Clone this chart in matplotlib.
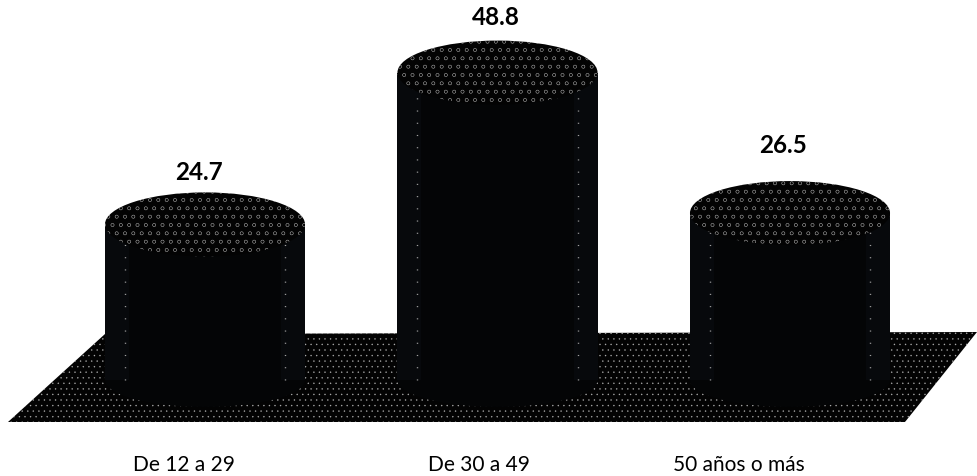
import matplotlib
matplotlib.use("Agg")
import matplotlib.pyplot as plt
from matplotlib.patches import Ellipse, Polygon
from matplotlib.transforms import Affine2D

plt.rcParams['font.family'] = ['Lato', 'DejaVu Sans']
plt.rcParams['hatch.linewidth'] = 0.3

categories = ["De 12 a 29", "De 30 a 49", "50 años o más"]
values = [24.7, 48.8, 26.5]

# layout (pixels), not data
W, H = 977, 477
value_offsets_px = [(-6, 53), (-2, 56), (-7, 69)]
category_offsets_px = [(-21, -84), (-19, -84), (-51, -84)]
floor_px = [(8, 423), (105, 335), (977, 333), (905, 423)]
BODY = "#040506"
EDGE_BAND = "#07090c"
bar_w = 0.684
PT = 0.72  # points per pixel at dpi 100

fig = plt.figure(figsize=(W / 100, H / 100), dpi=100, facecolor="white")
ax = fig.add_axes([0, 0, 1, 1])
ax.set_xlim(-205 / 292.5, (W - 205) / 292.5)
ax.set_ylim((381 - H) / 6.3, 381 / 6.3)
ax.axis("off")

px = Affine2D().scale(1, -1).translate(0, H)
ax.add_patch(Polygon(floor_px, closed=True, transform=px, facecolor="#030303",
                     edgecolor=(1, 1, 1, 0.55), hatch="...", linewidth=0, zorder=1))

xs = list(range(len(categories)))
ell_h = 64 / 6.3
for x, v in zip(xs, values):
    ax.add_patch(Ellipse((x, 0), bar_w, 54 / 6.3, facecolor=BODY, edgecolor="none", zorder=2))
ax.bar(xs, values, width=bar_w, color=BODY, linewidth=0, zorder=3)
for x, v in zip(xs, values):
    ax.bar([x - bar_w * 0.44], [v], width=bar_w * 0.12, color=EDGE_BAND, linewidth=0, zorder=3.1)
    ax.bar([x + bar_w * 0.44], [v], width=bar_w * 0.12, color=EDGE_BAND, linewidth=0, zorder=3.1)
    ax.vlines([x - bar_w * 0.40, x + bar_w * 0.40], 0, v - 1.5, colors="#a0a0a0",
              linestyles=(0, (0.8, 8)), linewidth=1.0, zorder=3.5)
    ax.add_patch(Ellipse((x, v), bar_w, ell_h, facecolor="#030303",
                         edgecolor=(1, 1, 1, 0.4), hatch="oo", linewidth=0, zorder=4))
for x, v, (dx, dy) in zip(xs, values, value_offsets_px):
    ax.annotate(f"{v:.1f}", (x, v), xytext=(dx * PT, dy * PT), textcoords="offset points",
                ha="center", va="center", fontsize=17.5, fontweight="bold", color="black", zorder=6)
for x, c, (dx, dy) in zip(xs, categories, category_offsets_px):
    ax.annotate(c, (x, 0), xytext=(dx * PT, dy * PT), textcoords="offset points",
                ha="center", va="center", fontsize=15, color="black")

fig.savefig("out.png", dpi=100, facecolor="white")
